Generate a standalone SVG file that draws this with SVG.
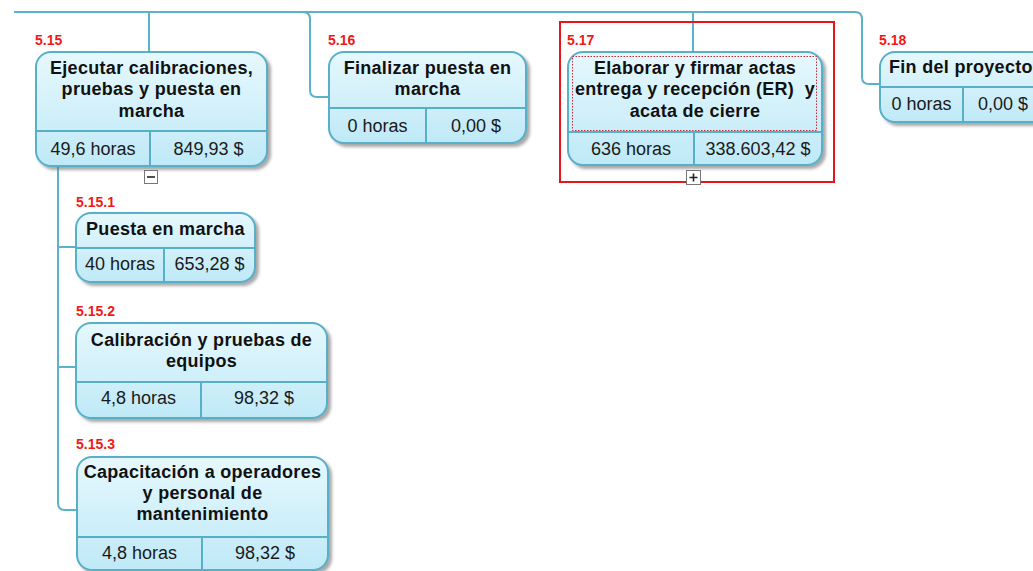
<svg xmlns="http://www.w3.org/2000/svg" width="1033" height="571" viewBox="0 0 1033 571">
<defs>
<linearGradient id="nodeFill" x1="0" y1="0" x2="0" y2="1">
<stop offset="0" stop-color="#e6f8fd"/>
<stop offset="1" stop-color="#bfe9f7"/>
</linearGradient>
<filter id="shadow" x="-10%" y="-10%" width="130%" height="140%">
<feDropShadow dx="3" dy="3" stdDeviation="1.5" flood-color="#707070" flood-opacity="0.6"/>
</filter>
<style>
.box{fill:url(#nodeFill);stroke:#58afc8;stroke-width:2;filter:url(#shadow)}
.div{stroke:#58afc8;stroke-width:2;fill:none}
.con{stroke:#5ab3c9;stroke-width:2;fill:none}
.title{font-family:"Liberation Sans",Arial,sans-serif;font-weight:bold;font-size:18px;letter-spacing:0.3px;fill:#111;text-anchor:middle}
.val{font-family:"Liberation Sans",Arial,sans-serif;font-size:18px;fill:#1a1a1a;text-anchor:middle}
.lbl{font-family:"Liberation Sans",Arial,sans-serif;font-weight:bold;font-size:14px;fill:#f01818}
.tog{fill:#fff;stroke:#777;stroke-width:1}
</style>
</defs>
<rect width="1033" height="571" fill="#fff"/>
<g id="connectors">
<path class="con" d="M14,12 H855 Q862,12 862,19 V77 Q862,84 869,84 H880"/>
<path class="con" d="M149,12 V52"/>
<path class="con" d="M303,12 Q310,12 310,19 V90 Q310,97 317,97 H330"/>
<path class="con" d="M693,12 V52"/>
<path class="con" d="M58,166 V503 Q58,510 65,510 H77"/>
<path class="con" d="M58,247 H76"/>
<path class="con" d="M58,367 H76"/>
</g>
<g id="n5_15">
<text class="lbl" x="35" y="45">5.15</text>
<rect class="box" x="36" y="52" width="231" height="114" rx="15"/>
<path class="div" d="M37,131 H266 M150,131 V165"/>
<text class="title" x="151.5" y="74">Ejecutar calibraciones,</text>
<text class="title" x="151.5" y="95">pruebas y puesta en</text>
<text class="title" x="151.5" y="117">marcha</text>
<text class="val" x="93" y="155">49,6 horas</text>
<text class="val" x="208.5" y="155">849,93 $</text>
<rect class="tog" x="144.5" y="170.5" width="13" height="13"/>
<path d="M147,177 H155" stroke="#222" stroke-width="1.6"/>
</g>
<g id="n5_16">
<text class="lbl" x="328" y="45">5.16</text>
<rect class="box" x="329" y="52" width="197" height="91" rx="15"/>
<path class="div" d="M330,108 H525 M426,108 V142"/>
<text class="title" x="427.5" y="74">Finalizar puesta en</text>
<text class="title" x="427.5" y="95">marcha</text>
<text class="val" x="377.5" y="132">0 horas</text>
<text class="val" x="476" y="132">0,00 $</text>
</g>
<g id="n5_17">
<rect x="560" y="22" width="274" height="160" fill="none" stroke="#e8141c" stroke-width="2"/>
<text class="lbl" x="567" y="45">5.17</text>
<rect class="box" x="568" y="52" width="254" height="113" rx="15"/>
<path class="div" d="M569,132 H821 M694,132 V164"/>
<rect x="572.5" y="56.5" width="244" height="74" fill="none" stroke="#c8283a" stroke-width="1" stroke-dasharray="1.5,1.5"/>
<text class="title" x="695" y="74">Elaborar y firmar actas</text>
<text class="title" x="695" y="95">entrega y recepción (ER)&#160; y</text>
<text class="title" x="695" y="117">acata de cierre</text>
<text class="val" x="631" y="155">636 horas</text>
<text class="val" x="758" y="155">338.603,42 $</text>
<rect class="tog" x="686.5" y="170.5" width="14" height="14"/>
<path d="M689.5,177.5 H697.5 M693.5,173.5 V181.5" stroke="#222" stroke-width="1.6"/>
</g>
<g id="n5_18">
<text class="lbl" x="879" y="45">5.18</text>
<rect class="box" x="880" y="52" width="170" height="70" rx="15"/>
<path class="div" d="M881,87 H1049 M963,87 V121"/>
<text class="title" x="889" y="73" style="text-anchor:start">Fin del proyecto</text>
<text class="val" x="921.5" y="110">0 horas</text>
<text class="val" x="1003" y="110">0,00 $</text>
</g>
<g id="n5_15_1">
<text class="lbl" x="76" y="207">5.15.1</text>
<rect class="box" x="76" y="213" width="179" height="69" rx="15"/>
<path class="div" d="M77,248 H254 M164,248 V281"/>
<text class="title" x="165.5" y="235">Puesta en marcha</text>
<text class="val" x="120" y="270">40 horas</text>
<text class="val" x="209.5" y="270">653,28 $</text>
</g>
<g id="n5_15_2">
<text class="lbl" x="76" y="316">5.15.2</text>
<rect class="box" x="76" y="323" width="251" height="95" rx="15"/>
<path class="div" d="M77,382 H326 M201,382 V417"/>
<text class="title" x="201.5" y="346">Calibración y pruebas de</text>
<text class="title" x="201.5" y="367">equipos</text>
<text class="val" x="138.5" y="404">4,8 horas</text>
<text class="val" x="264" y="404">98,32 $</text>
</g>
<g id="n5_15_3">
<text class="lbl" x="76" y="449">5.15.3</text>
<rect class="box" x="77" y="457" width="251" height="113" rx="15"/>
<path class="div" d="M78,537 H327 M202,537 V569"/>
<text class="title" x="202.5" y="478">Capacitación a operadores</text>
<text class="title" x="202.5" y="499">y personal de</text>
<text class="title" x="202.5" y="520">mantenimiento</text>
<text class="val" x="139.5" y="559">4,8 horas</text>
<text class="val" x="265" y="559">98,32 $</text>
</g>
</svg>
